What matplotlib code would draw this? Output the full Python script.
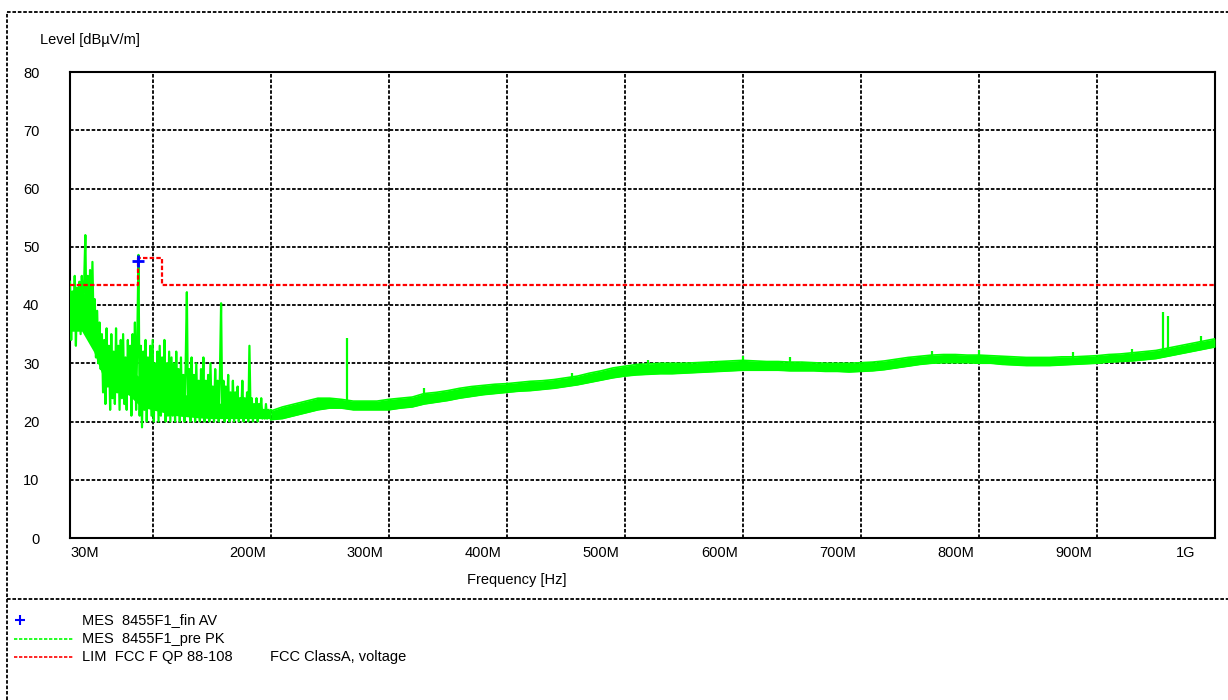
import numpy as np
import matplotlib
matplotlib.use("Agg")
import matplotlib.pyplot as plt
from matplotlib.lines import Line2D
from matplotlib.transforms import ScaledTranslation

plt.rcParams['font.family'] = ['Liberation Sans', 'DejaVu Sans']

# ---------------- data ----------------
# Pre-scan PK trace, 30..200 MHz at 1 MHz steps (dBuV/m)
lf_start_mhz = 30
lf_level = [
    44, 34, 42, 36, 45, 33, 43, 38, 44, 35, 45, 37, 44, 52, 36, 45, 38, 46, 35, 47.4,
    36, 41, 31, 39, 30, 37, 29,
    35, 25, 34, 23, 36, 26, 33, 22, 35, 24, 32, 23, 36, 25, 33, 22, 34, 24, 35, 23,
    31, 22, 34, 25, 33, 21, 35, 24, 37, 22, 34,
    48.6,
    21, 33, 19, 32, 22, 34, 20, 31, 23, 33, 21, 34, 20, 30, 22, 32, 20, 33, 21, 31,
    22, 34, 20, 30, 21, 32, 20,
    31, 21, 30, 20, 32, 22, 29, 20, 31, 21, 28, 20, 30, 42.2, 21, 29, 20, 31, 22, 28,
    20, 30, 21, 27, 20, 29, 22, 31, 20, 27, 21, 28, 20, 30, 21, 26, 20, 29, 22, 27,
    20, 28, 40.3, 21, 27, 20, 26, 21, 28, 20, 25, 21, 27, 20, 25, 21, 26, 20, 24, 21,
    27, 20, 24, 21, 25, 20, 33, 21, 24, 20, 23, 21, 24, 20, 23, 21, 24, 20.5, 22, 20.5,
    23, 20.5, 22, 21, 22,
]

# Dense core of the trace below 200 MHz (10 MHz steps)
core_freq = [30, 40, 50, 60, 70, 80, 90, 100, 110, 120, 130, 140, 150, 160, 170, 180, 190, 200]
core_low = [35.5, 35.5, 32.0, 26.5, 25.5, 24.5, 22.5, 22.0, 21.5, 21.0, 20.8, 20.6, 20.5,
            20.5, 20.5, 20.5, 20.5, 20.5]
core_high = [42.5, 43.0, 38.0, 30.5, 30.0, 29.0, 27.5, 27.0, 26.0, 25.0, 24.5, 24.0, 23.5,
             23.0, 22.5, 22.2, 22.0, 21.8]

# Pre-scan PK trace envelope, 200..1000 MHz at 10 MHz steps
hf_freq = list(range(200, 1001, 10))
hf_low = [
    20.3, 20.5, 21.0, 21.5, 22.0, 22.3, 22.3, 22.0, 22.0, 22.0,
    22.0, 22.3, 22.5, 23.0, 23.3, 23.6, 24.0, 24.3, 24.6, 24.8,
    25.0, 25.2, 25.3, 25.5, 25.7, 26.0, 26.3, 26.7, 27.1, 27.5,
    27.8, 28.0, 28.1, 28.2, 28.2, 28.3, 28.4, 28.5, 28.6, 28.7,
    28.8, 28.8, 28.8, 28.8, 28.7, 28.7, 28.7, 28.6, 28.6, 28.5,
    28.6, 28.7, 28.9, 29.2, 29.5, 29.8, 30.0, 30.1, 30.1, 30.1,
    30.0, 30.0, 29.8, 29.7, 29.6, 29.6, 29.6, 29.7, 29.8, 29.9,
    30.0, 30.2, 30.3, 30.4, 30.6, 30.8, 31.2, 31.6, 32.0, 32.4,
    32.8,
]
hf_high = [
    21.8, 22.5, 23.0, 23.5, 24.0, 24.0, 23.8, 23.5, 23.5, 23.5,
    23.8, 24.0, 24.2, 24.8, 25.0, 25.3, 25.7, 26.0, 26.2, 26.4,
    26.5, 26.7, 26.9, 27.0, 27.2, 27.5, 27.8, 28.3, 28.7, 29.2,
    29.5, 29.8, 29.9, 30.0, 30.0, 30.0, 30.1, 30.2, 30.3, 30.4,
    30.5, 30.4, 30.3, 30.3, 30.2, 30.2, 30.1, 30.0, 30.0, 30.0,
    30.1, 30.2, 30.4, 30.7, 31.0, 31.2, 31.4, 31.5, 31.5, 31.4,
    31.4, 31.3, 31.2, 31.1, 31.0, 31.0, 31.0, 31.1, 31.1, 31.2,
    31.3, 31.5, 31.6, 31.8, 32.0, 32.2, 32.6, 33.0, 33.4, 33.8,
    34.2,
]

# Narrow spikes above the band (MHz, base, top)
spike_freq = [265, 330, 455, 520, 600, 640, 760, 800, 880, 930, 956, 960, 988]
spike_base = [23.5, 24.5, 27.0, 29.5, 30.0, 30.0, 31.0, 31.0, 30.5, 31.5, 31.5, 31.5, 33.5]
spike_top = [34.3, 25.8, 28.3, 30.6, 31.2, 31.0, 32.1, 32.3, 31.9, 32.4, 38.8, 38.1, 34.7]

# Final AV measurement
fin_freq = [87.5]
fin_level = [47.5]

# Limit line FCC
lim_freq = [30, 88, 88, 108, 108, 1000]
lim_level = [43.5, 43.5, 48.0, 48.0, 43.5, 43.5]

# Axis labels
x_label_vals = [30, 200, 300, 400, 500, 600, 700, 800, 900, 1000]
x_label_text = ['30M', '200M', '300M', '400M', '500M', '600M', '700M', '800M', '900M', '1G']
x_grid_vals = [100, 200, 300, 400, 500, 600, 700, 800, 900]
y_ticks = [0, 10, 20, 30, 40, 50, 60, 70, 80]

legend_text = ['MES  8455F1_fin AV', 'MES  8455F1_pre PK', 'LIM  FCC F QP 88-108']

# ---------------- figure ----------------
W, H = 1228, 700
fig = plt.figure(figsize=(W / 100, H / 100), dpi=100)
ax = fig.add_axes([70 / W, 162 / H, 1145 / W, 466 / H])
ax.set_xlim(30, 1000)
ax.set_ylim(0, 80)

dash = (0, (2, 1))
FS = 10.5
GREEN = '#00FF00'

for s in ax.spines.values():
    s.set_linestyle(dash)
    s.set_linewidth(1.5)
    s.set_color('black')

ax.set_xticks(x_grid_vals)
ax.set_yticks(y_ticks)
ax.tick_params(axis='x', length=0, labelbottom=False)
ax.tick_params(axis='y', length=0, pad=22, labelsize=FS)
ax.grid(True, color='black', linestyle=dash, linewidth=1.3)
ax.set_axisbelow(True)

# green trace
lf_freq = np.arange(len(lf_level)) + lf_start_mhz
ax.fill_between(core_freq, core_low, core_high, color=GREEN, lw=0, zorder=3)
ax.plot(lf_freq, lf_level, color=GREEN, lw=1.6, zorder=3)
ax.fill_between(hf_freq, hf_low, hf_high, color=GREEN, lw=0, zorder=3)
ax.plot(hf_freq, hf_low, color=GREEN, lw=1.2, zorder=3)
ax.plot(hf_freq, hf_high, color=GREEN, lw=1.2, zorder=3)
ax.vlines(spike_freq, spike_base, spike_top, color=GREEN, lw=1.6, zorder=3)

# limit
ax.plot(lim_freq, lim_level, color='#FF0000', lw=1.6, linestyle=dash, zorder=4)
# final measurement
ax.plot(fin_freq, fin_level, linestyle='none', marker='+', color='#0000FF',
        ms=9, mew=2, zorder=5)

# x tick labels
for v, t in zip(x_label_vals, x_label_text):
    if t == x_label_text[0]:
        off = ScaledTranslation(0, -15 / 100, fig.dpi_scale_trans)
        ax.text(v, 0, t, transform=ax.transData + off, ha='left', va='center', fontsize=FS)
    elif t == x_label_text[-1]:
        off = ScaledTranslation(-20 / 100, -15 / 100, fig.dpi_scale_trans)
        ax.text(v, 0, t, transform=ax.transData + off, ha='right', va='center', fontsize=FS)
    else:
        off = ScaledTranslation(-5 / 100, -15 / 100, fig.dpi_scale_trans)
        ax.text(v, 0, t, transform=ax.transData + off, ha='right', va='center', fontsize=FS)

fig.text(40 / W, 1 - 40 / H, 'Level [dBµV/m]', ha='left', va='center', fontsize=FS)
fig.text(517 / W, 1 - 580 / H, 'Frequency [Hz]', ha='center', va='center', fontsize=FS)

# frame and divider
kw = dict(transform=fig.transFigure, color='black', linestyle=dash, linewidth=1.3)
fig.add_artist(Line2D([7 / W, 7 / W], [0, 1 - 12 / H], **kw))
fig.add_artist(Line2D([7 / W, 1], [1 - 12 / H, 1 - 12 / H], **kw))
fig.add_artist(Line2D([7 / W, 1], [1 - 599 / H, 1 - 599 / H], **kw))

# legend
ys = [620, 639, 657]
fig.add_artist(Line2D([20 / W], [1 - ys[0] / H], transform=fig.transFigure, marker='+',
                      color='#0000FF', ms=7, mew=1.5, linestyle='none'))
fig.add_artist(Line2D([14 / W, 73 / W], [1 - ys[1] / H] * 2, transform=fig.transFigure,
                      color=GREEN, linestyle=dash, lw=1.2))
fig.add_artist(Line2D([14 / W, 73 / W], [1 - ys[2] / H] * 2, transform=fig.transFigure,
                      color='#FF0000', linestyle=dash, lw=1.2))
for y, t in zip(ys, legend_text):
    fig.text(82 / W, 1 - y / H, t, ha='left', va='center', fontsize=FS)
fig.text(270 / W, 1 - ys[2] / H, 'FCC ClassA, voltage', ha='left', va='center', fontsize=FS)

fig.savefig('out.png', dpi=100)
